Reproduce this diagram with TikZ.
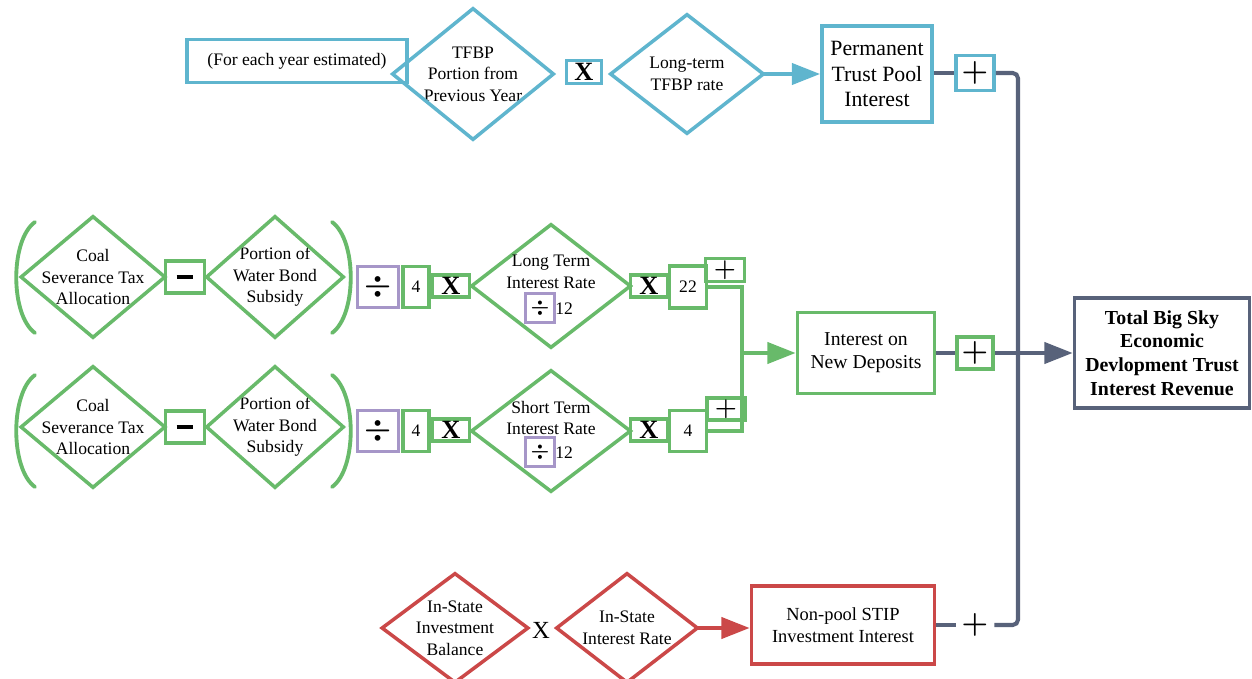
\documentclass[tikz,border=0pt]{standalone}
\usepackage{fontspec}
\setmainfont{Liberation Serif}
\usetikzlibrary{arrows.meta,calc}

\definecolor{cblue}{RGB}{95,181,206}
\definecolor{cgreen}{RGB}{104,186,106}
\definecolor{cpurp}{RGB}{166,150,200}
\definecolor{cred}{RGB}{203,72,72}
\definecolor{cgrey}{RGB}{88,98,122}

\newcommand\fs[2]{\fontsize{#1}{#2}\selectfont}
% diamond: #1 name, #2 centre, #3 width, #4 height, #5 colour, #6 text
\newcommand\dianode[6]{%
  \node[dtext, minimum width=#3*0.02cm, minimum height=#4*0.02cm] (#1) at #2 {#6};
  \draw[#5, line width=2pt] (#1.north) -- (#1.east) -- (#1.south) -- (#1.west) -- cycle;}

\begin{document}
\begin{tikzpicture}[x=0.02cm, y=-0.02cm,
  bx/.style={draw=#1, line width=2.2pt, inner sep=0pt, align=center},
  sz/.style 2 args={minimum width=#1*0.02cm, minimum height=#2*0.02cm},
  dtext/.style={inner sep=0pt, align=center, font=\fs{10}{12.3}},
  arr/.style={line width=2.2pt, -{Triangle[length=16pt,width=12pt]}},
  gl/.style={draw=cgrey, line width=2.3pt},
  greenl/.style={draw=cgreen, line width=2.2pt},
  paren/.style={draw=cgreen, line width=2.2pt, line cap=round},
  bigx/.style={font=\fs{15}{15}\bfseries},
  plus/.style={font=\fs{18}{18}\boldmath},
  splus/.style={font=\fs{15}{15}\boldmath},
  divs/.style={font=\fs{18}{18}\boldmath},
  sdivs/.style={font=\fs{13}{13}\boldmath},
  num/.style={font=\fs{10}{12}}
]
\useasboundingbox (0,0) rectangle (1252,679);

% ---------- permanent trust pool (blue) ----------
\node[bx=cblue, sz={220}{43}, font=\fs{10}{12}] (fey) at (297,61) {(For each year estimated)};
\dianode{tfbp}{(473,74)}{160}{130}{cblue}{TFBP\\Portion from\\Previous Year}
\node[bx=cblue, sz={35}{23}, bigx] (x1) at (584,72) {X};
\dianode{ltr}{(687,74)}{152}{118}{cblue}{Long-term\\TFBP rate}
\node[bx=cblue, sz={110}{96}, font=\fs{12.4}{14.7}] (perm) at (877,74) {Permanent\\Trust Pool\\Interest};
\node[bx=cblue, sz={38}{35}, plus] (plus1) at (975,73) {$+$};
\draw[arr, cblue] (ltr.east) -- (ltr.east -| perm.west);

% ---------- long term deposits (green, upper row) ----------
\dianode{coal1}{(93,277)}{143}{120}{cgreen}{Coal\\Severance Tax\\Allocation}
\node[bx=cgreen, sz={39}{32}] (minus1) at (185,277) {\rule{9.5pt}{2.8pt}};
\dianode{wat1}{(275,277)}{136}{120}{cgreen}{Portion of\\Water Bond\\Subsidy}
\draw[paren] (35,222) .. controls (10,240) and (10,315) .. (35,333);
\draw[paren] (332,222) .. controls (357,240) and (357,315) .. (332,333);
\node[bx=cpurp, sz={41}{41}, divs] (div1) at (378,287) {$\div$};
\node[bx=cgreen, sz={26}{41}, num] (four1) at (416,287) {4};
\node[bx=cgreen, sz={37}{22}, bigx] (x2) at (451,286) {X};
\dianode{lti}{(551,286)}{158}{122}{cgreen}{}
\node[dtext] (ltiT) at (551,272) {Long Term\\Interest Rate};
\node[bx=cpurp, sz={29}{29}, sdivs] (ltiD) at (540,308) {$\div$};
\node[num, inner sep=0pt, anchor=west] (ltiN) at (555,309) {12};
\node[bx=cgreen, sz={37}{22}, bigx] (x3) at (649,286) {X};
\node[bx=cgreen, sz={37}{42}, num] (n22) at (688,287) {22};
\node[bx=cgreen, sz={39}{23}, splus] (plusA) at (725,270) {$+$};

% ---------- short term deposits (green, lower row) ----------
\dianode{coal2}{(93,427)}{143}{120}{cgreen}{Coal\\Severance Tax\\Allocation}
\node[bx=cgreen, sz={39}{32}] (minus2) at (185,427) {\rule{9.5pt}{2.8pt}};
\dianode{wat2}{(275,427)}{136}{120}{cgreen}{Portion of\\Water Bond\\Subsidy}
\draw[paren] (35,375) .. controls (10,393) and (10,469) .. (35,487);
\draw[paren] (332,375) .. controls (357,393) and (357,469) .. (332,487);
\node[bx=cpurp, sz={41}{41}, divs] (div2) at (378,431) {$\div$};
\node[bx=cgreen, sz={26}{41}, num] (four2) at (416,431) {4};
\node[bx=cgreen, sz={37}{22}, bigx] (x4) at (451,430) {X};
\dianode{sti}{(551,431)}{158}{120}{cgreen}{}
\node[dtext] (stiT) at (551,418) {Short Term\\Interest Rate};
\node[bx=cpurp, sz={29}{29}, sdivs] (stiD) at (540,452) {$\div$};
\node[num, inner sep=0pt, anchor=west] (stiN) at (555,453) {12};
\node[bx=cgreen, sz={37}{22}, bigx] (x5) at (649,430) {X};
\node[bx=cgreen, sz={37}{41}, num] (n4) at (688,431) {4};
\node[bx=cgreen, sz={38}{22}, splus] (plusB) at (726,409) {$+$};

% ---------- new deposits ----------
\coordinate (jm) at (742,353);
\node[bx=cgreen, sz={137}{81}, font=\fs{11.2}{13}] (newdep) at (866,353) {Interest on\\New Deposits};
\node[bx=cgreen, sz={36}{32}, plus] (plusC) at (975,353) {$+$};
\draw[greenl] (n22.east) -- (n22.east -| jm) -- (n4.east -| jm) -- (n4.east);
\draw[arr, cgreen] (jm) -- (jm -| newdep.west);

% ---------- non-pool STIP (red) ----------
\dianode{isb}{(455,628)}{145}{108}{cred}{In-State\\Investment\\Balance}
\node[font=\fs{14}{14}, inner sep=0pt] (xr) at (541,630) {X};
\dianode{isr}{(627,628)}{140}{108}{cred}{In-State\\Interest Rate}
\node[bx=cred, sz={183}{78}, font=\fs{10.5}{12.5}] (stip) at (843,625) {Non-pool STIP\\Investment Interest};
\draw[arr, cred] (isr.east) -- (isr.east -| stip.west);
\node[sz={38}{30}, plus, inner sep=0pt] (plusD) at (975,625) {$+$};

% ---------- total ----------
\node[bx=cgrey, sz={175}{110}, font=\fs{11.3}{13.4}\bfseries] (total) at (1162,353)
  {Total Big Sky\\Economic\\Devlopment Trust\\Interest Revenue};
\coordinate (bus) at (1018,0);
\draw[gl] (perm.east |- plus1) -- (plus1.west);
\draw[gl] (newdep.east) -- (plusC.west);
\draw[gl] (stip.east) -- (plusD.west);
\draw[gl, rounded corners=3pt] (plus1.east) -- (plus1.east -| bus) -- (plusD.east -| bus) -- (plusD.east);
\draw[gl, arr, cgrey] (plusC.east) -- (total.west);
\end{tikzpicture}
\end{document}
